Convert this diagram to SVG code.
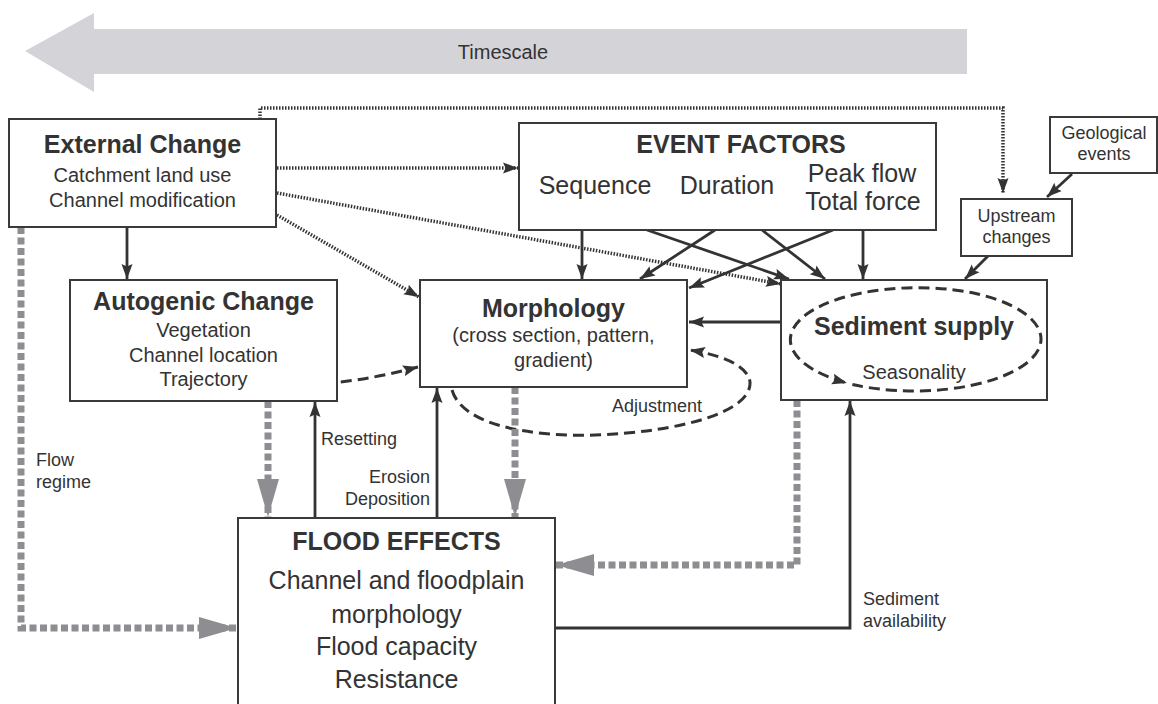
<svg xmlns="http://www.w3.org/2000/svg" width="1158" height="704" viewBox="0 0 1158 704">
  <defs>
    <style>
      .box { fill: #ffffff; stroke: #3a3a3a; stroke-width: 2; }
      text { font-family: "Liberation Sans", Arial, sans-serif; fill: #333333; }
      .title { font-weight: bold; font-size: 25px; text-anchor: middle; }
      .sub { font-size: 20px; text-anchor: middle; }
      .big { font-size: 25px; text-anchor: middle; }
      .small { font-size: 18px; }
      .solid { fill: none; stroke: #333333; stroke-width: 2.8; marker-end: url(#head); }
      .dotted { fill: none; stroke: #333333; stroke-width: 3.5; stroke-dasharray: 1.5 1.5; }
      .dashed { fill: none; stroke: #333333; stroke-width: 3; stroke-dasharray: 11 6; }
      .grey { fill: none; stroke: #8e8e92; stroke-width: 7; stroke-dasharray: 7 3.5; }
    </style>
    <marker id="head" markerUnits="userSpaceOnUse" markerWidth="16" markerHeight="12" refX="15" refY="6" orient="auto">
      <path d="M0,0.5 L15,6 L0,11.5 L2.5,6 Z" fill="#333333"/>
    </marker>
    <marker id="greyhead" markerUnits="userSpaceOnUse" markerWidth="40" markerHeight="24" refX="38" refY="12" orient="auto">
      <path d="M0,1 L38,12 L0,23 Z" fill="#8e8e92"/>
    </marker>
  </defs>

  <!-- timescale band -->
  <g id="timescale">
    <polygon points="25,51 94,13 94,29 967,29 967,74 94,74 94,92" fill="#d4d4d8"/>
    <text x="503" y="59" font-size="20" text-anchor="middle" fill="#444444">Timescale</text>
  </g>

  <!-- connectors -->
  <g id="connectors">
    <!-- dotted influences from external change -->
    <path class="dotted" d="M260,119 V108 H1003 V193" marker-end="url(#head)"/>
    <path class="dotted" d="M277,168 H518" marker-end="url(#head)"/>
    <path class="dotted" d="M277,193 L781,284" marker-end="url(#head)"/>
    <path class="dotted" d="M277,215 L419,297" marker-end="url(#head)"/>

    <!-- solid arrows -->
    <path class="solid" d="M127,227 V279"/>
    <path class="solid" d="M582,230 V279"/>
    <path class="solid" d="M647,230 L789,279"/>
    <path class="solid" d="M715,230 L640,279"/>
    <path class="solid" d="M762,230 L825,279"/>
    <path class="solid" d="M833,230 L689,288"/>
    <path class="solid" d="M863,230 V279"/>
    <path class="solid" d="M1072,174 L1047,197"/>
    <path class="solid" d="M988,256 L965,279"/>
    <path class="solid" d="M781,322 H689"/>
    <path class="solid" d="M315,518 V402"/>
    <path class="solid" d="M437,518 V388"/>
    <path class="solid" d="M555,628 H850 V401"/>

    <!-- dashed feedbacks -->
    <path class="dashed" d="M307,384 C340,384 380,377 418,367" marker-end="url(#head)"/>
    <path class="dashed" d="M452,390 C462,425 530,437 595,435 C680,432 752,412 750,382 C748,365 720,355 690,350" marker-end="url(#head)"/>

    <!-- grey flow paths into flood effects -->
    <path class="grey" d="M21,227 V628 H237" marker-end="url(#greyhead)"/>
    <path class="grey" d="M268,401 V517" marker-end="url(#greyhead)"/>
    <path class="grey" d="M515,387 V517" marker-end="url(#greyhead)"/>
    <path class="grey" d="M797,400 V565 H556" marker-end="url(#greyhead)"/>
  </g>

  <!-- connector labels -->
  <g id="labels">
    <text class="small" x="36" y="466">Flow</text>
    <text class="small" x="36" y="488">regime</text>
    <text class="small" x="321" y="445">Resetting</text>
    <text class="small" x="430" y="483" text-anchor="end">Erosion</text>
    <text class="small" x="430" y="505" text-anchor="end">Deposition</text>
    <text class="small" x="612" y="412">Adjustment</text>
    <text class="small" x="863" y="605">Sediment</text>
    <text class="small" x="863" y="627">availability</text>
  </g>

  <g id="external-change">
    <rect class="box" x="9" y="119" width="267" height="108"/>
    <text class="title" x="142.5" y="153">External Change</text>
    <text class="sub" x="142.5" y="182" font-size="22.5">Catchment land use</text>
    <text class="sub" x="142.5" y="207" font-size="22.5">Channel modification</text>
  </g>

  <g id="event-factors">
    <rect class="box" x="519" y="123" width="417" height="107"/>
    <text class="title" x="741" y="153">EVENT FACTORS</text>
    <text class="big" x="595" y="194">Sequence</text>
    <text class="big" x="727" y="194">Duration</text>
    <text class="big" x="862" y="182">Peak flow</text>
    <text class="big" x="863" y="210">Total force</text>
  </g>

  <g id="geological-events">
    <rect class="box" x="1050" y="117" width="107" height="56"/>
    <text class="small" x="1104" y="139" text-anchor="middle">Geological</text>
    <text class="small" x="1104" y="160" text-anchor="middle">events</text>
  </g>

  <g id="upstream-changes">
    <rect class="box" x="961" y="199" width="111" height="57"/>
    <text class="small" x="1016.5" y="222" text-anchor="middle">Upstream</text>
    <text class="small" x="1016.5" y="243" text-anchor="middle">changes</text>
  </g>

  <g id="autogenic-change">
    <rect class="box" x="70" y="280" width="267" height="121"/>
    <text class="title" x="203.5" y="310" font-size="25.3">Autogenic Change</text>
    <text class="sub" x="203.5" y="337">Vegetation</text>
    <text class="sub" x="203.5" y="362">Channel location</text>
    <text class="sub" x="203.5" y="386">Trajectory</text>
  </g>

  <g id="morphology">
    <rect class="box" x="420" y="280" width="267" height="107"/>
    <text class="title" x="553.5" y="317">Morphology</text>
    <text class="sub" x="553.5" y="342" font-size="19.5">(cross section, pattern,</text>
    <text class="sub" x="553.5" y="367" font-size="19.5">gradient)</text>
  </g>

  <g id="sediment-supply">
    <rect class="box" x="781" y="280" width="266" height="120"/>
    <!-- seasonal cycle loop inside the box -->
    <path class="dashed" d="M852.4,384.5 A127,52 0 0 0 975.6,293.5 A127,52 0 0 0 847,383" marker-end="url(#head)"/>
    <text class="title" x="914" y="335">Sediment supply</text>
    <text class="sub" x="914" y="379" font-size="22.5">Seasonality</text>
  </g>

  <g id="flood-effects">
    <rect class="box" x="238" y="518" width="317" height="200"/>
    <text class="title" x="396.5" y="550">FLOOD EFFECTS</text>
    <text class="big" x="396.5" y="589">Channel and floodplain</text>
    <text class="big" x="396.5" y="623">morphology</text>
    <text class="big" x="396.5" y="655">Flood capacity</text>
    <text class="big" x="396.5" y="688">Resistance</text>
  </g>
</svg>
